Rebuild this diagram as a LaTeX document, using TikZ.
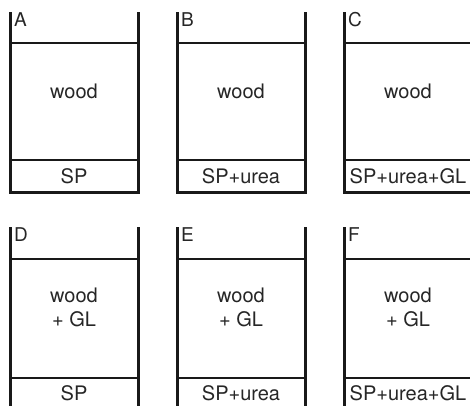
\documentclass[tikz,border=0pt]{standalone}
\usepackage{fontspec}
\setmainfont{TeX Gyre Heros}
\begin{document}
\begin{tikzpicture}[x=1pt,y=-1pt,
  wall/.style={line width=3pt, line join=miter, line cap=butt, draw=black!90},
  sepline/.style={line width=2.2pt, draw=black!90},
  lbl/.style={anchor=base west, inner sep=0pt, font=\fontsize{19}{24}\selectfont, text=black!85},
  txt/.style={anchor=base, inner sep=0pt, font=\fontsize{20}{24}\selectfont, align=center, text=black!85}]
\path[use as bounding box] (0,0) rectangle (470,405);
\clip (0,0) rectangle (470,405);
% panels: name / left x / top y / label / bottom text
\foreach \n/\L/\T/\lab/\bot in {a/10/12/A/SP, b/177/12/B/SP+urea, c/344/12/C/SP+urea+GL}{
  \pgfmathsetmacro{\R}{\L+128}
  \pgfmathsetmacro{\M}{\L+64}
  \draw[wall] (\L,\T) -- (\L,192) -- (\R,192) -- (\R,\T);
  \draw[sepline] (\L,43) -- (\R,43);
  \draw[sepline] (\L,160) -- (\R,160);
  \node[lbl] (lab\n) at (\L+4,26) {\lab};
  \node[txt] (wood\n) at (\M,98.5) {wood};
  \node[txt] (base\n) at (\M,183.5) {\bot};
}
\foreach \n/\L/\T/\lab/\bot in {d/10/227/D/SP, e/177/227/E/SP+urea, f/344/227/F/SP+urea+GL}{
  \pgfmathsetmacro{\R}{\L+128}
  \pgfmathsetmacro{\M}{\L+64}
  \draw[wall] (\L,\T) -- (\L,410) -- (\R,410) -- (\R,\T);
  \draw[sepline] (\L,259) -- (\R,259);
  \draw[sepline] (\L,378) -- (\R,378);
  \node[lbl] (lab\n) at (\L+4,241.5) {\lab};
  \node[txt] (wood\n) at (\M,326) {wood\\+ GL};
  \node[txt] (base\n) at (\M,400) {\bot};
}
\end{tikzpicture}
\end{document}
